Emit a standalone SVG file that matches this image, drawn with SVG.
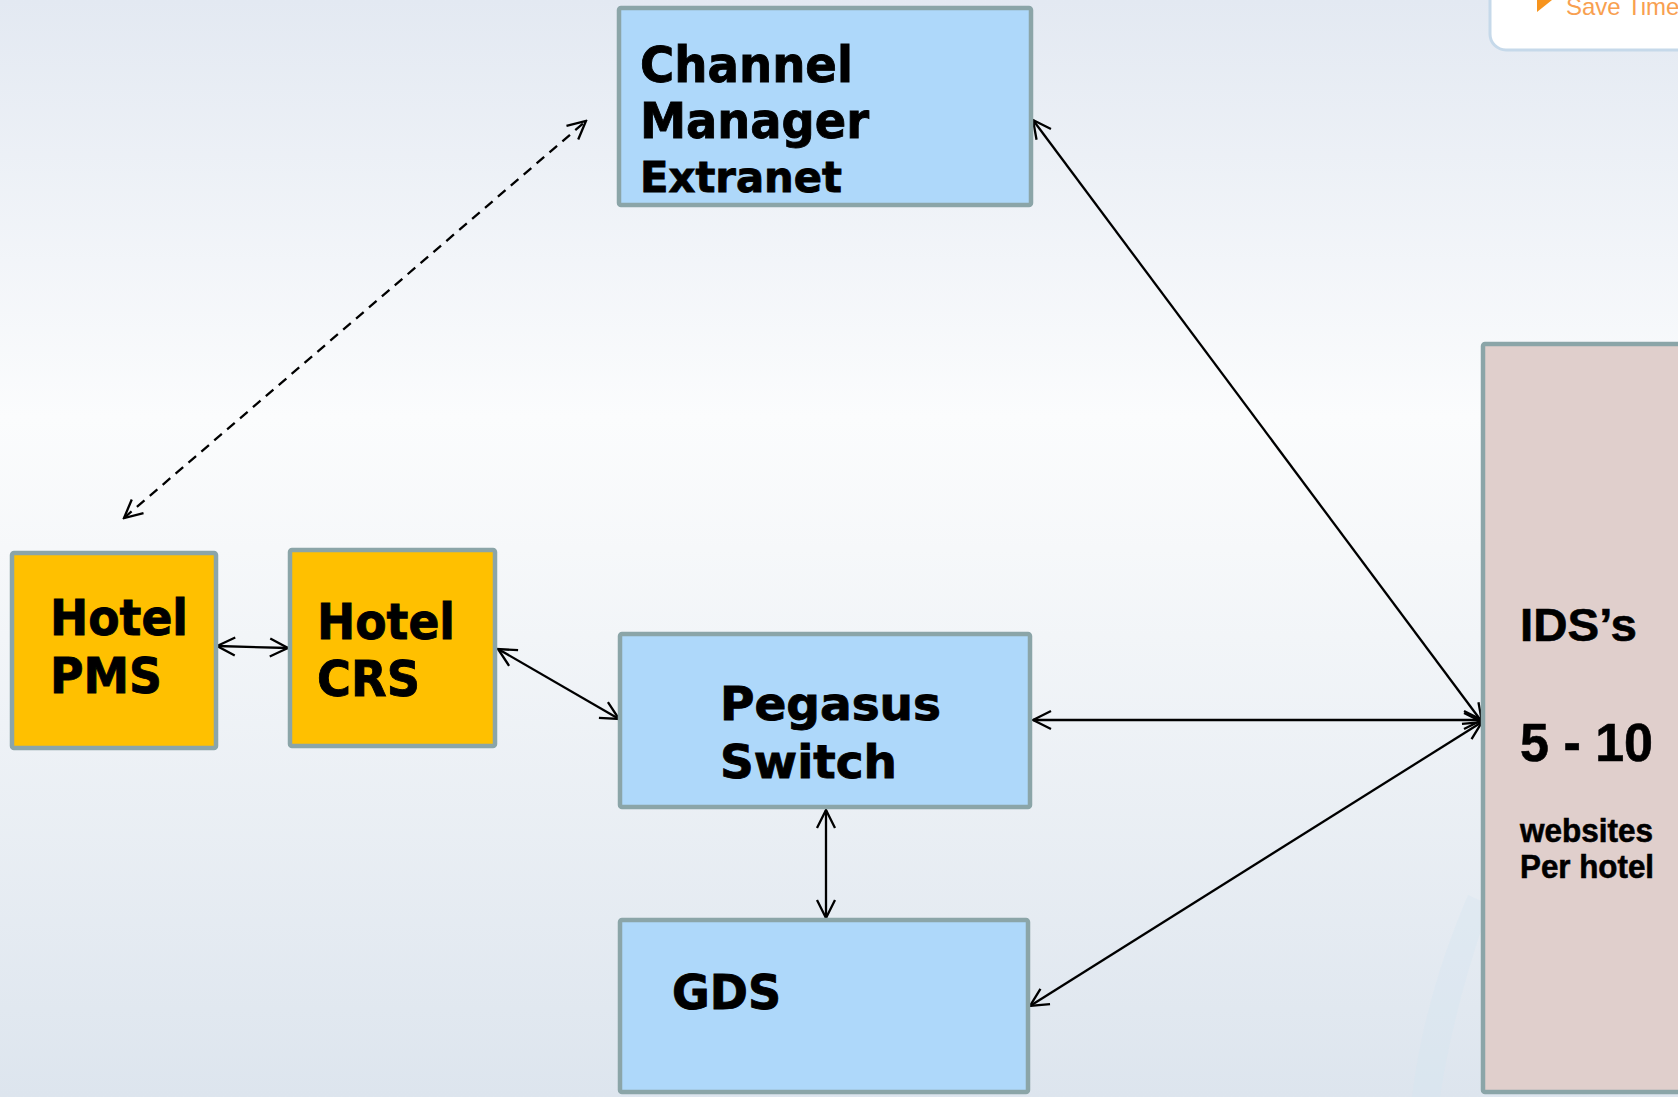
<svg xmlns="http://www.w3.org/2000/svg" width="1678" height="1097" viewBox="0 0 1678 1097">
<defs>
<linearGradient id="bg" x1="0" y1="0" x2="0" y2="1">
<stop offset="0" stop-color="#e3e9f2"/>
<stop offset="0.38" stop-color="#fbfcfd"/>
<stop offset="0.5" stop-color="#f6f8fa"/>
<stop offset="1" stop-color="#dde5ee"/>
</linearGradient>
<marker id="ah" viewBox="0 0 22 22" refX="20" refY="11" markerWidth="22" markerHeight="22" markerUnits="userSpaceOnUse" orient="auto-start-reverse">
<path d="M2,2 L20,11 L2,20" fill="none" stroke="#000" stroke-width="2.3"/>
</marker>
<style>
.blue{fill:#aed8fa;stroke:#8ba5a8;stroke-width:4.5}
.orange{fill:#ffc000;stroke:#8ba5a8;stroke-width:4.5}
.pink{fill:#e0cfcc;stroke:#8ba5a8;stroke-width:4.5}
.t{font-family:"DejaVu Sans","Verdana",sans-serif;font-weight:bold;fill:#000;stroke:#000;stroke-width:0.9}
.a{font-family:"Liberation Sans","Arial",sans-serif;font-weight:bold;fill:#000;stroke:#000;stroke-width:0.6}
.c{fill:none;stroke:#000;stroke-width:2.3;marker-start:url(#ah);marker-end:url(#ah)}
.d{stroke-dasharray:10 7}
</style>
</defs>
<rect x="0" y="0" width="1678" height="1097" fill="url(#bg)"/>
<path d="M1468,895 C1440,960 1420,1030 1412,1097 L1440,1097 C1450,1030 1470,960 1490,905 Z" fill="#d3e4f1" opacity="0.35"/>
<g id="savetime">
<rect x="1490" y="-30" width="240" height="80" rx="16" fill="#ffffff" stroke="#c6d9ea" stroke-width="3"/>
<polygon points="1537,-12 1552,0 1537,12" fill="#f7941d"/>
<text x="1566" y="15" font-family="'Liberation Sans',Arial,sans-serif" font-size="24" fill="#f8a050">Save Time</text>
</g>
<g id="connectors">
<line class="c d" x1="124" y1="518" x2="586" y2="121"/>
<line class="c" x1="217" y1="646" x2="288" y2="648"/>
<line class="c" x1="498" y1="649" x2="619" y2="719"/>
<line class="c" x1="1033" y1="720" x2="1482" y2="720"/>
<line class="c" x1="826" y1="810" x2="826" y2="918"/>
<line class="c" x1="1033" y1="120" x2="1482" y2="722"/>
<line class="c" x1="1482" y1="722" x2="1030" y2="1006"/>
</g>
<g id="channel-manager">
<rect class="blue" x="619" y="8" width="412" height="197" rx="2"/>
<text class="t" x="640" y="82" font-size="50" textLength="213" lengthAdjust="spacingAndGlyphs">Channel</text>
<text class="t" x="640" y="138" font-size="50" textLength="229" lengthAdjust="spacingAndGlyphs">Manager</text>
<text class="t" x="640" y="192" font-size="43" textLength="202" lengthAdjust="spacingAndGlyphs">Extranet</text>
</g>
<g id="hotel-pms">
<rect class="orange" x="12" y="553" width="204" height="195" rx="2"/>
<text class="t" x="50" y="635" font-size="50" textLength="138" lengthAdjust="spacingAndGlyphs">Hotel</text>
<text class="t" x="50" y="693" font-size="50" textLength="112" lengthAdjust="spacingAndGlyphs">PMS</text>
</g>
<g id="hotel-crs">
<rect class="orange" x="290" y="550" width="205" height="196" rx="2"/>
<text class="t" x="317" y="639" font-size="50" textLength="138" lengthAdjust="spacingAndGlyphs">Hotel</text>
<text class="t" x="317" y="696" font-size="50" textLength="103" lengthAdjust="spacingAndGlyphs">CRS</text>
</g>
<g id="pegasus-switch">
<rect class="blue" x="620" y="634" width="410" height="173" rx="2"/>
<text class="t" x="720" y="720" font-size="47" textLength="221" lengthAdjust="spacingAndGlyphs">Pegasus</text>
<text class="t" x="720" y="778" font-size="47" textLength="177" lengthAdjust="spacingAndGlyphs">Switch</text>
</g>
<g id="gds">
<rect class="blue" x="620" y="920" width="408" height="172" rx="2"/>
<text class="t" x="672" y="1009" font-size="48" textLength="109" lengthAdjust="spacingAndGlyphs">GDS</text>
</g>
<g id="ids">
<rect class="pink" x="1483" y="344" width="240" height="748" rx="2"/>
<text class="a" x="1520" y="641" font-size="47" textLength="117" lengthAdjust="spacingAndGlyphs">IDS’s</text>
<text class="a" x="1520" y="761" font-size="53" textLength="133" lengthAdjust="spacingAndGlyphs">5 - 10</text>
<text class="a" x="1520" y="842" font-size="33" textLength="133" lengthAdjust="spacingAndGlyphs">websites</text>
<text class="a" x="1520" y="878" font-size="33" textLength="134" lengthAdjust="spacingAndGlyphs">Per hotel</text>
</g>
</svg>
